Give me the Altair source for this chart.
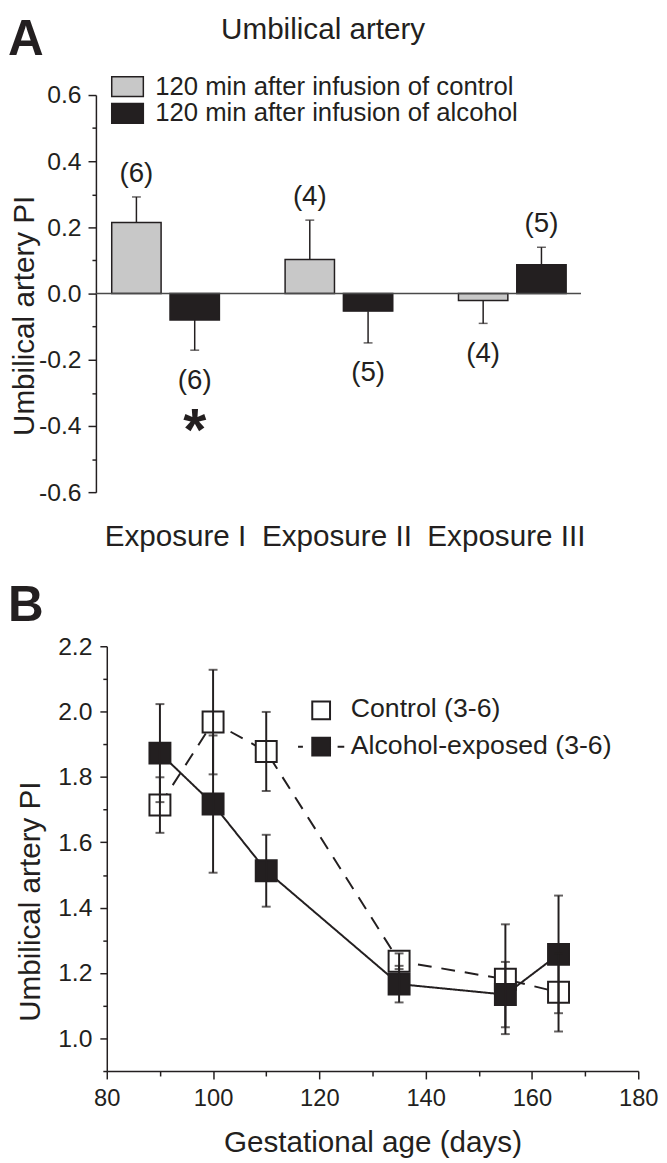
import altair as alt
import pandas as pd

# ---------------- Panel A data ----------------
exposures = ["Exposure I", "Exposure II", "Exposure III"]
treatments = ["120 min after infusion of control", "120 min after infusion of alcohol"]
control_change = [0.215, 0.103, -0.021]
control_sem = [0.077, 0.119, 0.069]
control_n = ["(6)", "(4)", "(4)"]
alcohol_change = [-0.080, -0.053, 0.087]
alcohol_sem = [0.091, 0.096, 0.053]
alcohol_n = ["(6)", "(5)", "(5)"]
alcohol_sig = ["*", "", ""]

# ---------------- Panel B data ----------------
groups = ["Control (3-6)", "Alcohol-exposed (3-6)"]
ages = [90, 100, 110, 135, 155, 165]
control_pi = [1.714, 1.968, 1.878, 1.236, 1.181, 1.141]
control_sd = [0.085, 0.160, 0.121, 0.024, 0.168, 0.120]
alcohol_pi = [1.873, 1.717, 1.513, 1.166, 1.134, 1.257]
alcohol_sd = [0.150, 0.210, 0.110, 0.056, 0.100, 0.180]

INK = "#231f20"
GRAY = "#c8c8c8"
FONT = "Liberation Sans"

# ---------------- build tables ----------------
rows = []
for i, e in enumerate(exposures):
    for t, m, s, n, sig in [
        (treatments[0], control_change[i], control_sem[i], control_n[i], ""),
        (treatments[1], alcohol_change[i], alcohol_sem[i], alcohol_n[i], alcohol_sig[i]),
    ]:
        rows.append({"exposure": e, "treatment": t, "mean": m, "sem": s,
                     "end": m + (s if m >= 0 else -s), "n": n, "sig": sig})
dfA = pd.DataFrame(rows)

rowsB = []
for g, vals, sds in [(groups[0], control_pi, control_sd), (groups[1], alcohol_pi, alcohol_sd)]:
    for a, v, s in zip(ages, vals, sds):
        rowsB.append({"age": a, "group": g, "pi": v, "lo": v - s, "hi": v + s})
dfB = pd.DataFrame(rowsB)

# ---------------- Panel A ----------------
a_ticks = [round(-0.6 + 0.1 * k, 1) for k in range(13)]
major_a = "abs(round(datum.value*10)) % 2 == 0"
yA_axis = alt.Axis(
    values=a_ticks,
    labelExpr=f"{major_a} ? (datum.value < -0.001 ? '-' : '') + format(abs(datum.value), '.1f') : ''",
    tickSize={"condition": {"test": major_a, "value": 8}, "value": 4},
    labelFontSize=25, labelPadding=7, offset=11, orient="left",
    title="Umbilical artery PI", titleFontSize=30, titlePadding=-1, titleY=223,
)
yA_scale = alt.Scale(domain=[-0.6, 0.6], nice=False, zero=False)

xA = alt.X("exposure:N", sort=exposures,
           scale=alt.Scale(paddingInner=0.379, paddingOuter=0.0285),
           axis=alt.Axis(title=None, labelAngle=0, domain=False, ticks=False, tickSize=0,
                         labelFontSize=30, labelPadding=30, orient="bottom",
                         labelOffset={"condition": [
                             {"test": "datum.value == 'Exposure I'", "value": 10},
                             {"test": "datum.value == 'Exposure III'", "value": -6}],
                             "value": -2}))
xA_plain = alt.X("exposure:N", sort=exposures,
                 scale=alt.Scale(paddingInner=0.379, paddingOuter=0.0285), axis=None)
xoff = alt.XOffset("treatment:N", sort=treatments, scale=alt.Scale(paddingInner=0.153))

baseA = alt.Chart(dfA)

bars = baseA.mark_bar(stroke=INK, strokeWidth=1.5).encode(
    x=xA, xOffset=xoff,
    y=alt.Y("mean:Q", scale=yA_scale, axis=yA_axis),
    fill=alt.Fill("treatment:N", sort=treatments,
                  scale=alt.Scale(domain=treatments, range=[GRAY, INK]),
                  legend=alt.Legend(title=None, orient="none", legendX=8, legendY=-21.5,
                                    symbolType="M-1.6,-1H1.6V1H-1.6Z", symbolSize=400,
                                    symbolStrokeColor=INK, symbolStrokeWidth=1.5,
                                    labelFontSize=26, labelOffset=15, rowPadding=1,
                                    padding=0, labelLimit=0, labelColor=INK)),
)

err_rule = baseA.mark_rule(color=INK, strokeWidth=1.5).encode(
    x=xA_plain, xOffset=xoff,
    y=alt.Y("mean:Q", scale=yA_scale, axis=None), y2="end:Q")
err_cap = baseA.mark_tick(color=INK, thickness=1.5, size=9).encode(
    x=xA_plain, xOffset=xoff, y=alt.Y("end:Q", scale=yA_scale, axis=None))

lab_up = baseA.transform_filter("datum.mean >= 0").mark_text(
    fontSize=28, dy=-23, baseline="middle", color=INK).encode(
    x=xA_plain, xOffset=xoff, y=alt.Y("end:Q", scale=yA_scale, axis=None), text="n:N")
lab_dn = baseA.transform_filter("datum.mean < 0").mark_text(
    fontSize=28, dy=31, baseline="middle", color=INK).encode(
    x=xA_plain, xOffset=xoff, y=alt.Y("end:Q", scale=yA_scale, axis=None), text="n:N")
star = baseA.transform_filter("datum.sig != ''").mark_text(
    fontSize=60, fontWeight="bold", dy=101, baseline="alphabetic", color=INK).encode(
    x=xA_plain, xOffset=xoff, y=alt.Y("end:Q", scale=yA_scale, axis=None), text="sig:N")

zero = alt.Chart(pd.DataFrame({"z": [0]})).mark_rule(color="#4a4a4a", strokeWidth=1.5).encode(
    y=alt.Y("z:Q", scale=yA_scale, axis=None), x=alt.value(-11), x2=alt.value(480))

one = pd.DataFrame({"t": [0]})
letterA = alt.Chart(one).mark_text(text="A", fontSize=50, fontWeight="bold", align="left",
                                   baseline="top", color=INK).encode(
    x=alt.value(-100), y=alt.value(-81))
titleA = alt.Chart(one).mark_text(text="Umbilical artery", fontSize=30, align="center",
                                  baseline="middle", color=INK).encode(
    x=alt.value(219), y=alt.value(-66))

panelA = alt.layer(bars, zero, err_rule, err_cap, lab_up, lab_dn, star, letterA, titleA).properties(
    width=470, height=402).resolve_axis(x="independent", y="independent")

# ---------------- Panel B ----------------
b_yticks = [round(0.9 + 0.1 * k, 1) for k in range(14)]
major_by = "abs(round(datum.value*10)) % 2 == 0"
b_xticks = list(range(80, 181, 10))
major_bx = "datum.value % 20 == 0"

yB_scale = alt.Scale(domain=[0.9, 2.2], nice=False, zero=False)
xB_scale = alt.Scale(domain=[80, 180], nice=False)

xB = alt.X("age:Q", scale=xB_scale, axis=alt.Axis(
    values=b_xticks, orient="bottom",
    labelExpr=f"{major_bx} ? format(datum.value, 'd') : ''",
    tickSize={"condition": {"test": major_bx, "value": 8}, "value": 5},
    labelFontSize=24, labelPadding=8, labelFlush=False, labelOverlap=False,
    title="Gestational age (days)", titleFontSize=30, titlePadding=17))
yB = alt.Y("pi:Q", scale=yB_scale, axis=alt.Axis(
    values=b_yticks, orient="left",
    labelExpr=f"{major_by} ? format(datum.value, '.1f') : ''",
    tickSize={"condition": {"test": major_by, "value": 7}, "value": 4},
    labelFontSize=25, labelPadding=8, labelOverlap=False,
    title="Umbilical artery PI", titleFontSize=30, titlePadding=12, titleY=258))
xB_plain = alt.X("age:Q", scale=xB_scale, axis=None)
yB_plain = alt.Y("pi:Q", scale=yB_scale, axis=None)

baseB = alt.Chart(dfB)

lines = baseB.mark_line(color=INK, strokeWidth=2).encode(
    x=xB, y=yB,
    strokeDash=alt.StrokeDash("group:N", sort=groups,
                              scale=alt.Scale(domain=groups, range=[[14, 10], [1, 0]]),
                              legend=None),
    detail="group:N")

pts_ctrl = baseB.transform_filter(alt.datum.group == groups[0]).mark_point(
    shape="square", size=450, filled=True, fill="white", stroke=INK, strokeWidth=2,
    opacity=1).encode(x=xB_plain, y=yB_plain)
pts_alc = baseB.transform_filter(alt.datum.group == groups[1]).mark_point(
    shape="square", size=450, filled=True, fill=INK, stroke=INK, strokeWidth=2,
    opacity=1).encode(x=xB_plain, y=yB_plain)

eb_rule = baseB.mark_rule(color=INK, strokeWidth=2).encode(
    x=xB_plain, y=alt.Y("lo:Q", scale=yB_scale, axis=None), y2="hi:Q")
eb_lo = baseB.mark_tick(color=INK, thickness=2, size=9, orient="horizontal").encode(
    x=xB_plain, y=alt.Y("lo:Q", scale=yB_scale, axis=None))
eb_hi = baseB.mark_tick(color=INK, thickness=2, size=9, orient="horizontal").encode(
    x=xB_plain, y=alt.Y("hi:Q", scale=yB_scale, axis=None))

# legend of panel B (keyed to the group names)
leg_ctrl = pd.DataFrame({"g": [groups[0]]})
leg_alc = pd.DataFrame({"g": [groups[1]]})
ctrl_path = "M-1,-1H1V1H-1Z"
alc_path = "M-1,-1H1V1H-1Z M-2.6,0H-2.05 M1.85,0H2.6"
legB_ctrl_sym = alt.Chart(leg_ctrl).mark_point(
    shape=ctrl_path, size=324, filled=True, fill="white", stroke=INK, strokeWidth=2,
    opacity=1).encode(x=alt.value(217), y=alt.value(65))
legB_alc_sym = alt.Chart(leg_alc).mark_point(
    shape=alc_path, size=324, filled=True, fill=INK, stroke=INK, strokeWidth=2,
    opacity=1).encode(x=alt.value(217), y=alt.value(101.7))
legB_ctrl_txt = alt.Chart(leg_ctrl).mark_text(
    align="left", baseline="middle", fontSize=27, color=INK).encode(
    text="g:N", x=alt.value(247), y=alt.value(64))
legB_alc_txt = alt.Chart(leg_alc).mark_text(
    align="left", baseline="middle", fontSize=27, color=INK).encode(
    text="g:N", x=alt.value(247), y=alt.value(101))

letterB = alt.Chart(one).mark_text(text="B", fontSize=50, fontWeight="bold", align="left",
                                   baseline="top", color=INK).encode(
    x=alt.value(-100), y=alt.value(-66))

panelB = alt.layer(lines, pts_ctrl, pts_alc, eb_rule, eb_lo, eb_hi,
                   legB_ctrl_sym, legB_alc_sym, legB_ctrl_txt, legB_alc_txt, letterB).properties(
    width=538, height=430).resolve_axis(x="independent", y="independent")

chart = alt.vconcat(panelA, panelB, spacing=30).resolve_scale(
    fill="independent", strokeDash="independent"
).resolve_legend(fill="independent").properties(
    padding={"left": 0, "top": 0, "right": 0, "bottom": 0}
).configure(font=FONT).configure_view(stroke=None).configure_axis(
    domainColor=INK, tickColor=INK, labelColor=INK, titleColor=INK,
    domainWidth=1.5, tickWidth=1.5, grid=False, titleFontWeight="normal"
)

chart.save("out.html", embed_options={"renderer": "svg", "actions": False})
